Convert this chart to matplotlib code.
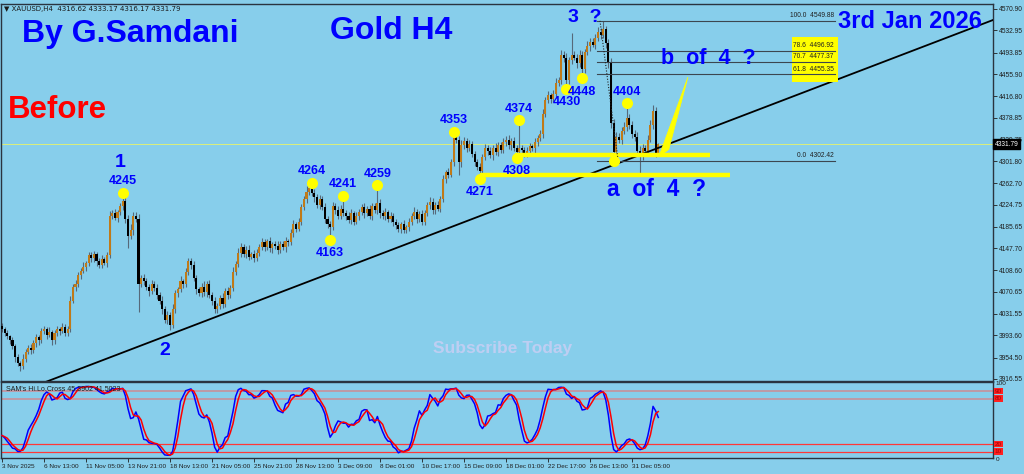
import numpy as np
import pandas as pd
import matplotlib
matplotlib.use("Agg")
import matplotlib.pyplot as plt
from matplotlib.patches import Rectangle, Polygon

# ---- price data (XAUUSD H4, 3 Nov 2025 21:00 .. 2 Jan 2026 21:00) ----
FIRST_OPEN = 4010
CLOSES = [
    4005, 3998, 3992, 3985, 3975, 3955, 3945, 3940, 3952, 3965,
    3972, 3968, 3980, 3990, 3985, 4002, 4005, 3995, 4000, 3985,
    3998, 4005, 4002, 4008, 3998, 4005, 4055, 4080, 4085, 4100,
    4108, 4115, 4122, 4135, 4130, 4138, 4125, 4118, 4128, 4122,
    4135, 4205, 4210, 4202, 4212, 4222, 4232, 4200, 4170, 4180,
    4205, 4200, 4085, 4095, 4090, 4080, 4072, 4085, 4078, 4065,
    4055, 4040, 4020, 4030, 4012, 4040, 4068, 4075, 4090, 4085,
    4105, 4125, 4118, 4095, 4075, 4068, 4080, 4070, 4085, 4065,
    4055, 4040, 4045, 4060, 4050, 4072, 4065, 4078, 4105, 4120,
    4140, 4150, 4138, 4145, 4133, 4138, 4130, 4140, 4150, 4158,
    4150, 4160, 4148, 4155, 4152, 4145, 4155, 4150, 4160, 4158,
    4175, 4190, 4182, 4195, 4220, 4235, 4248, 4255, 4245, 4238,
    4225, 4235, 4220, 4200, 4190, 4185, 4222, 4215, 4205, 4218,
    4210, 4205, 4198, 4210, 4195, 4205, 4212, 4220, 4210, 4218,
    4205, 4222, 4215, 4228, 4210, 4205, 4212, 4200, 4205, 4195,
    4188, 4182, 4190, 4180, 4185, 4195, 4205, 4212, 4200, 4208,
    4195, 4210, 4225, 4230, 4215, 4225, 4218, 4235, 4270, 4282,
    4278, 4300, 4345, 4340, 4300, 4330, 4338, 4325, 4332, 4315,
    4300, 4292, 4285, 4310, 4325, 4320, 4312, 4325, 4318, 4330,
    4322, 4335, 4340, 4330, 4338, 4325, 4318, 4325, 4322, 4315,
    4320, 4328, 4325, 4335, 4342, 4350, 4385, 4410, 4418, 4412,
    4420, 4440, 4445, 4490, 4485, 4445, 4480, 4490, 4485, 4475,
    4490, 4465, 4495, 4505, 4512, 4508, 4520, 4530, 4525, 4535,
    4510, 4475, 4370, 4318, 4345, 4340, 4355, 4362, 4378, 4365,
    4350, 4345, 4320, 4310, 4325, 4320, 4340, 4365, 4390, 4316.62,
    4331.79,
]
# wick length above max(open, close) and below min(open, close)
UPPER_WICK = [
    6, 4, 5, 3, 5, 4, 6, 3, 8, 5, 4, 6, 5, 7, 4, 5, 6, 3, 8, 4,
    5, 6, 4, 7, 5, 6, 8, 5, 7, 6, 5, 8, 4, 6, 7, 5, 4, 6, 8, 5,
    6, 9, 5, 7, 4, 6, 13, 8, 6, 10, 7, 6, 9, 5, 8, 6, 4, 7, 5, 6,
    5, 8, 6, 7, 5, 9, 6, 5, 8, 4, 7, 6, 5, 8, 6, 5, 7, 9, 4, 6,
    5, 7, 6, 5, 8, 6, 7, 5, 9, 6, 8, 7, 5, 6, 8, 4, 6, 7, 5, 8,
    6, 5, 7, 4, 6, 8, 5, 6, 7, 5, 6, 8, 5, 7, 6, 5, 9, 6, 9, 8,
    6, 7, 5, 8, 4, 6, 7, 5, 8, 6, 23, 5, 6, 8, 4, 7, 5, 6, 8, 5,
    7, 6, 5, 31, 6, 5, 7, 4, 6, 5, 4, 6, 5, 7, 4, 6, 5, 8, 6, 5,
    7, 6, 5, 8, 6, 5, 7, 6, 8, 5, 7, 6, 8, 9, 6, 10, 7, 5, 8, 6,
    5, 6, 7, 5, 8, 6, 7, 5, 9, 6, 5, 7, 6, 8, 5, 6, 5, 49, 6, 5,
    7, 6, 5, 8, 6, 7, 9, 6, 8, 5, 7, 8, 6, 9, 7, 8, 6, 38, 7, 6,
    8, 7, 6, 9, 7, 8, 6, 9, 8, 14.88, 6, 8, 9, 7, 8, 6, 7, 9, 26, 8,
    7, 6, 8, 9, 7, 6, 8, 9, 11, 7, 1.38,
]
LOWER_WICK = [
    5, 6, 4, 7, 5, 8, 6, 10, 5, 6, 4, 7, 5, 6, 8, 5, 6, 7, 4, 8,
    6, 5, 7, 4, 6, 5, 6, 4, 7, 5, 6, 4, 8, 5, 6, 7, 8, 5, 6, 4,
    7, 5, 6, 4, 8, 5, 6, 7, 22, 6, 8, 6, 50, 5, 7, 6, 8, 5, 6, 7,
    6, 8, 5, 7, 9, 5, 6, 7, 5, 8, 6, 5, 7, 6, 8, 5, 6, 7, 8, 6,
    7, 7, 6, 5, 8, 6, 7, 5, 6, 4, 6, 7, 5, 8, 6, 5, 7, 4, 6, 5,
    7, 5, 6, 8, 5, 7, 6, 5, 8, 6, 5, 7, 6, 4, 6, 5, 7, 6, 5, 8,
    6, 7, 5, 8, 6, 22, 5, 7, 6, 5, 6, 8, 5, 7, 6, 5, 7, 6, 8, 5,
    6, 7, 5, 6, 8, 5, 7, 6, 5, 8, 6, 5, 7, 5, 5, 6, 7, 5, 8, 6,
    7, 6, 5, 8, 6, 7, 5, 6, 5, 7, 6, 5, 7, 6, 22, 8, 6, 7, 5, 6,
    7, 6, 14, 8, 6, 7, 5, 8, 6, 7, 6, 5, 7, 6, 8, 5, 10, 6, 7, 5,
    6, 7, 5, 8, 6, 5, 7, 6, 5, 8, 6, 7, 5, 6, 8, 15, 7, 6, 5, 8,
    6, 17, 7, 6, 8, 5, 7, 6, 8, 5, 8, 9, 10, 15.58, 7, 6, 8, 5, 7, 6,
    8, 7, 6, 35, 7, 6, 8, 5, 6, 7, 0.45,
]

PRICE_TICKS = [4570.90, 4532.95, 4493.85, 4455.90, 4416.80, 4378.85, 4339.75,
               4301.80, 4262.70, 4224.75, 4185.65, 4147.70, 4108.60, 4070.65,
               4031.55, 3993.60, 3954.50, 3916.55]
LAST_PRICE = 4331.79

TIME_TICK_BARS = [0, 16, 32, 48, 64, 80, 96, 112, 128, 144, 160, 176, 192, 208, 224, 240]
TIME_TICK_LABELS = ["3 Nov 2025", "6 Nov 13:00", "11 Nov 05:00", "13 Nov 21:00",
                    "18 Nov 13:00", "21 Nov 05:00", "25 Nov 21:00", "28 Nov 13:00",
                    "3 Dec 09:00", "8 Dec 01:00", "10 Dec 17:00", "15 Dec 09:00",
                    "18 Dec 01:00", "22 Dec 17:00", "26 Dec 13:00", "31 Dec 05:00"]

# swing points marked with yellow dots
SWING_BARS = [46, 118, 130, 125, 143, 172, 182, 197, 196, 215, 221, 238, 233]
SWING_PRICES = [4245, 4264, 4241, 4163, 4259, 4353, 4271, 4374, 4308, 4430, 4448, 4404, 4302.42]
SWING_LABELS = ["4245", "4264", "4241", "4163", "4259", "4353", "4271", "4374",
                "4308", "4430", "4448", "4404", ""]
SWING_ABOVE = [True, True, True, False, True, True, False, True, False, False, False, True, True]

# analyst drawings
TREND_BARS = [0, 377.5]
TREND_PRICES = [3881.8, 4551.4]
FIB_LEVELS = [100.0, 78.6, 70.7, 61.8, 0.0]
FIB_PRICES = [4549.88, 4496.92, 4477.37, 4455.35, 4302.42]
FIB_BARS = [226.7, 317.3]
SUPPORT_PRICES = [4312.5, 4276.5]
SUPPORT_BARS = [(195.4, 269.7), (182.1, 277.3)]

BG = "#87ceeb"
BLUE = "#0000ff"
FONT = "Liberation Sans"

opens = np.array([FIRST_OPEN] + CLOSES[:-1], dtype=float)
closes = np.array(CLOSES, dtype=float)
highs = np.maximum(opens, closes) + np.array(UPPER_WICK)
lows = np.minimum(opens, closes) - np.array(LOWER_WICK)
bars = np.arange(len(closes))

# oscillator (hi/lo stochastic cross) from the price arrays
hh = pd.Series(highs).rolling(14, min_periods=1).max()
ll = pd.Series(lows).rolling(14, min_periods=1).min()
raw = 100 * (pd.Series(closes) - ll) / (hh - ll)
k_line = raw.rolling(3, min_periods=1).mean()
d_line = k_line.rolling(3, min_periods=1).mean()

W, H = 1024, 474
fig = plt.figure(figsize=(W / 100, H / 100), dpi=100)
fig.patch.set_facecolor(BG)
ax = fig.add_axes([1 / W, 1 - 381 / H, 992 / W, 377 / H])
ax2 = fig.add_axes([1 / W, 1 - 458 / H, 992 / W, 76 / H], sharex=ax)

for a in (ax, ax2):
    a.set_facecolor(BG)
    for s in a.spines.values():
        s.set_color("#2a3440")
        s.set_linewidth(1.0)

# ---- candles ----
up = closes >= opens
ax.vlines(bars, lows, highs, color="#56697a", linewidth=0.8, zorder=2)
body_h = np.maximum(np.abs(closes - opens), 0.8)
ax.bar(bars[up], body_h[up], bottom=np.minimum(opens, closes)[up], width=0.78,
       color="#c07a18", edgecolor="none", zorder=3)
ax.bar(bars[~up], body_h[~up], bottom=np.minimum(opens, closes)[~up], width=0.78,
       color="#000000", edgecolor="none", zorder=3)

ax.set_xlim(-0.38, 377.5)
ax.set_ylim(3913.0, 4579.7)

# bid line
ax.axhline(LAST_PRICE, color="#dcef7a", linewidth=0.7, zorder=1)

# trend line
ax.plot(TREND_BARS, TREND_PRICES, color="black", linewidth=1.3, zorder=4)

# support lines
for p, (b0, b1) in zip(SUPPORT_PRICES, SUPPORT_BARS):
    ax.plot([b0, b1], [p, p], color="#ffff00", linewidth=3.2, solid_capstyle="butt", zorder=4)

# fibonacci retracement
ax.add_patch(Rectangle((300.95, 4441.8), 17.55, 79.6, facecolor="#ffff00",
                       edgecolor="none", zorder=4))
for lev, p in zip(FIB_LEVELS, FIB_PRICES):
    ax.plot(FIB_BARS, [p, p], color="#3c4650", linewidth=0.8, zorder=5)
    ax.text(FIB_BARS[1] - 0.5, p + 3, f"{lev:.1f}  {p:.2f}", ha="right", va="bottom",
            fontsize=4.8, color="#202020", family=FONT, zorder=6)
ax.plot([227.8, 234.7], [FIB_PRICES[0], FIB_PRICES[-1]], color="#222222",
        linewidth=0.8, linestyle=(0, (1, 1.5)), zorder=5)

# b-of-4 projection wedge
ax.add_patch(Polygon([(250.2, 4309.5), (254.0, 4322.5), (261.3, 4450.6)],
                     closed=True, facecolor="#ffff00", edgecolor="#ffff00",
                     linewidth=0.5, zorder=4))

# swing markers and labels
for b, p, lab, above in zip(SWING_BARS, SWING_PRICES, SWING_LABELS, SWING_ABOVE):
    ax.plot(b, p, "o", color="#ffff00", markersize=8, markeredgewidth=0, zorder=6)
    if lab:
        ax.annotate(lab, (b, p), xytext=(0, 8.5 if above else -9.5),
                    textcoords="offset points", ha="center",
                    va="center", fontsize=9, fontweight="bold",
                    color=BLUE, family=FONT, zorder=7)

# wave labels
wave_kw = dict(fontweight="bold", color=BLUE, family=FONT, ha="center", va="center", zorder=7)
ax.text(45.0, 4298.6, "1", fontsize=14, **wave_kw)
ax.text(62.1, 3967.8, "2", fontsize=14, **wave_kw)
ax.text(222.1, 4555.5, "3  ?", fontsize=14, **wave_kw)
ax.text(249.3, 4250.8, "a  of  4  ?", fontsize=16.5, **wave_kw)
ax.text(269.0, 4484.2, "b  of  4  ?", fontsize=15.5, **wave_kw)
ax.text(190.5, 3969.6, "Subscribe Today", fontsize=12.5, fontweight="bold",
        color="#c9cff4", alpha=0.85, family=FONT, ha="center", va="center", zorder=7)

# headline texts
fig.text(22 / W, 1 - 34 / H, "By G.Samdani", fontsize=23, fontweight="bold",
         color=BLUE, family=FONT, va="center", ha="left")
fig.text(330 / W, 1 - 31 / H, "Gold H4", fontsize=23, fontweight="bold",
         color=BLUE, family=FONT, va="center", ha="left")
fig.text(838 / W, 1 - 22 / H, "3rd Jan 2026", fontsize=17, fontweight="bold",
         color=BLUE, family=FONT, va="center", ha="left")
fig.text(8 / W, 1 - 110 / H, "Before", fontsize=22.5, fontweight="bold",
         color="#ff0000", family=FONT, va="center", ha="left")
fig.text(4 / W, 1 - 9 / H, "\u25bc XAUUSD,H4  4316.62 4333.17 4316.17 4331.79",
         fontsize=5, color="#1a1a1a", family="DejaVu Sans", va="center", ha="left")

# price axis
ax.yaxis.tick_right()
ax.set_yticks(PRICE_TICKS)
ax.set_yticklabels([f"{v:.2f}" for v in PRICE_TICKS], family=FONT)
ax.tick_params(axis="y", length=3, width=0.6, colors="#1e1e1e", labelsize=4.8, pad=1)
ax.tick_params(axis="x", bottom=False, labelbottom=False)
ax.text(1.002, LAST_PRICE, f"{LAST_PRICE:.2f}", transform=ax.get_yaxis_transform(),
        ha="left", va="center", fontsize=4.8, color="white", family=FONT,
        bbox=dict(facecolor="black", edgecolor="black", pad=1.2), zorder=10, clip_on=False)

# ---- oscillator panel ----
ax2.plot(bars, k_line, color="#0000ff", linewidth=1.1, zorder=3)
ax2.plot(bars, d_line, color="#ff0000", linewidth=1.1, zorder=4)
for lvl, col, lw in [(90, "#c8909a", 1.2), (80, "#c8909a", 1.2), (20, "#ff3838", 0.9), (10, "#ff3838", 0.9)]:
    ax2.axhline(lvl, color=col, linewidth=lw, zorder=2)
    ax2.text(1.002, lvl, str(lvl), transform=ax2.get_yaxis_transform(), ha="left",
             va="center", fontsize=4.6, color="#a00000", family=FONT, clip_on=False,
             bbox=dict(facecolor="#ff2020", edgecolor="none", pad=0.5))
ax2.text(1.003, 100, "100", transform=ax2.get_yaxis_transform(), ha="left", va="center",
         fontsize=4.6, color="#1e1e1e", family=FONT, clip_on=False)
ax2.text(1.003, 0, "0", transform=ax2.get_yaxis_transform(), ha="left", va="center",
         fontsize=4.6, color="#1e1e1e", family=FONT, clip_on=False)
ax2.text(0.005, 0.9, "SAM's Hi.Lo.Cross 45.3902 41.5023", transform=ax2.transAxes,
         fontsize=5, color="#1e1e1e", family=FONT, va="center", ha="left", zorder=6)
ax2.set_ylim(1.5, 102)
ax2.set_yticks([])
ax2.set_xticks(TIME_TICK_BARS)
ax2.set_xticklabels(TIME_TICK_LABELS, ha="left", family=FONT)
ax2.tick_params(axis="x", length=3, width=0.6, colors="#1e1e1e", labelsize=4.6, pad=1)

fig.savefig("out.png", dpi=100, facecolor=BG)
